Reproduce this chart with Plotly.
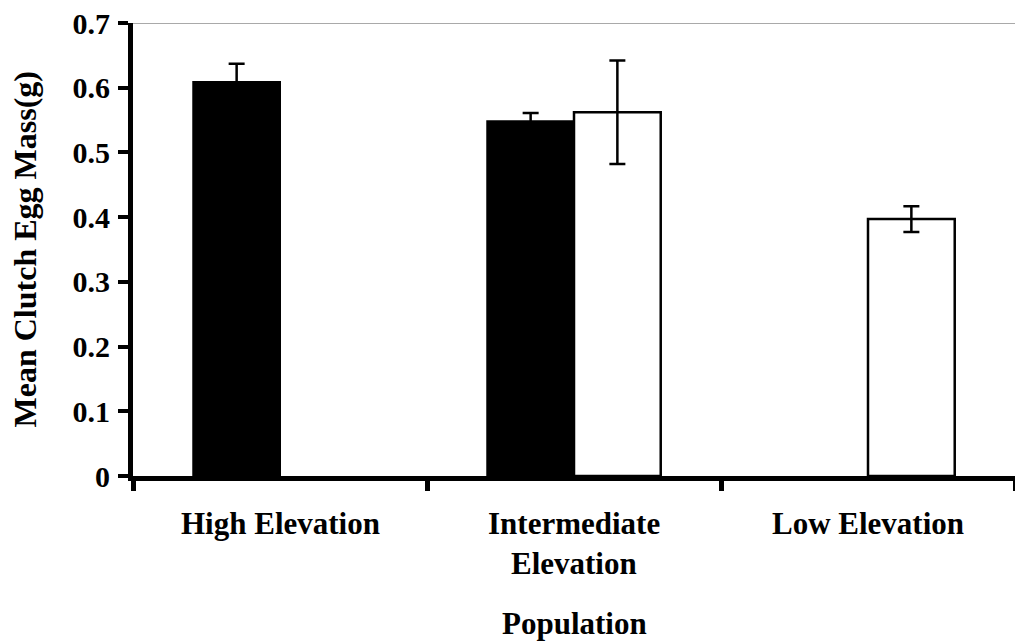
import plotly.graph_objects as go

categories = ["High Elevation", "Intermediate Elevation", "Low Elevation"]
tick_lines = [["High Elevation"], ["Intermediate", "Elevation"], ["Low Elevation"]]
black_vals = [0.609, 0.548, None]
black_err = [0.028, 0.013, 0]
white_vals = [None, 0.562, 0.397]
white_err = [0, 0.080, 0.020]
y_ticks = [0, 0.1, 0.2, 0.3, 0.4, 0.5, 0.6, 0.7]
y_ticktext = ["0", "0.1", "0.2", "0.3", "0.4", "0.5", "0.6", "0.7"]

FONT = "Liberation Serif"

fig = go.Figure()
fig.add_trace(go.Bar(
    x=categories, y=black_vals, name="black",
    marker=dict(color="black", line=dict(color="black", width=2)),
    error_y=dict(type="data", array=black_err, visible=True, color="black", thickness=2.5, width=8),
))
fig.add_trace(go.Bar(
    x=categories, y=white_vals, name="white",
    marker=dict(color="white", line=dict(color="black", width=2.5)),
    error_y=dict(type="data", array=white_err, visible=True, color="black", thickness=2.5, width=8),
))

annotations = []
for cat, lines in zip(categories, tick_lines):
    for i, ln in enumerate(lines):
        annotations.append(dict(
            x=cat, xref="x", y=-0.104 - 0.0885 * i, yref="paper",
            text="<b>%s</b>" % ln, showarrow=False, xanchor="center", yanchor="middle",
            font=dict(family=FONT, size=31, color="black"),
        ))
annotations.append(dict(
    x=0.5, xref="paper", y=-0.326, yref="paper", text="<b>Population</b>",
    showarrow=False, xanchor="center", yanchor="middle",
    font=dict(family=FONT, size=31, color="black"),
))
annotations.append(dict(
    x=-0.1225, xref="paper", y=0.5, yref="paper", text="<b>Mean Clutch Egg Mass(g)</b>",
    showarrow=False, xanchor="center", yanchor="middle", textangle=-90,
    font=dict(family=FONT, size=32, color="black"),
))

fig.update_layout(
    width=1015, height=643,
    margin=dict(l=133, r=0, t=23, b=167, pad=0),
    paper_bgcolor="white", plot_bgcolor="white",
    barmode="group", bargap=0.41, bargroupgap=0,
    showlegend=False,
    annotations=annotations,
    shapes=[dict(type="line", xref="paper", yref="y", x0=0, x1=1, y0=0.7, y1=0.7,
                 line=dict(color="#555555", width=1.2))],
    font=dict(family=FONT, size=24, color="black"),
)
fig.update_xaxes(
    range=[-0.5, 2.5], showticklabels=False, showline=True, linecolor="black", linewidth=5,
    ticks="outside", tickson="boundaries", ticklen=10, tickwidth=5, tickcolor="black",
    showgrid=False, zeroline=False,
)
fig.update_yaxes(
    range=[0, 0.7], tickvals=y_ticks, ticktext=y_ticktext,
    showline=True, linecolor="black", linewidth=5,
    ticks="outside", ticklen=10, tickwidth=4, tickcolor="black",
    ticklabelstandoff=2,
    tickfont=dict(family=FONT, size=30, color="black", weight="bold"),
    showgrid=False, zeroline=False,
)

fig.write_html("out.html")
